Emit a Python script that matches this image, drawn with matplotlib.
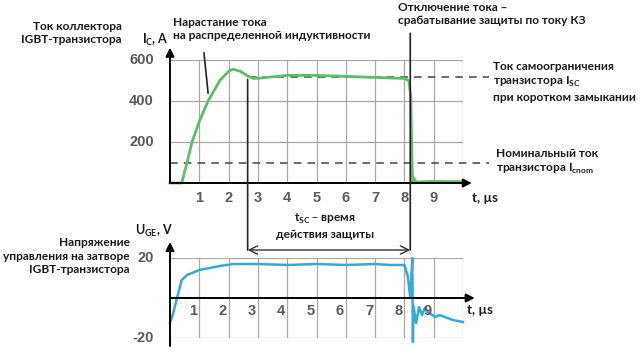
import matplotlib
matplotlib.use("Agg")
import matplotlib.pyplot as plt
from matplotlib.patches import ConnectionPatch

plt.rcParams['font.family'] = ['Lato', 'DejaVu Sans']

# collector current, A
t_ic = [0.0, 0.4, 0.6, 0.75, 1.0, 1.3, 1.7, 2.0, 2.15, 2.4, 2.65, 2.85, 3.1, 3.5, 4.0, 5.0, 6.0, 7.0, 7.6, 8.0, 8.15, 8.22, 8.25, 8.28, 8.32, 8.4, 9.0, 10.0]
ic = [0, 0, 110, 200, 300, 400, 500, 545, 555, 545, 522, 510, 512, 518, 525, 525, 520, 515, 512, 510, 500, 420, 150, 0, 25, 5, 8, 6]

# gate voltage, V
t_uge = [0.0, 0.1, 0.24, 0.4, 0.58, 1.0, 1.7, 2.15, 3.0, 4.0, 5.0, 6.0, 7.0, 7.5, 8.0, 8.12, 8.2, 8.27, 8.29, 8.31, 8.4, 8.5, 8.6, 8.7, 8.8, 8.95, 9.05, 9.2, 9.65, 10.0]
uge = [-12.5, -8, 0, 9, 11.5, 14, 16, 17, 17, 16.5, 17, 16.5, 17, 16.5, 16.5, 10.5, 0, 20, -22, -4, -12.5, -4.5, -8.5, -5, -7, -8.5, -9.5, -8.5, -11, -12]

ic_ticks = [200, 400, 600]
uge_ticks = [20, -20]
t_ticks = [1, 2, 3, 4, 5, 6, 7, 8, 9]
t_grid = [1, 2, 3, 4, 5, 6, 7, 8, 9, 10]
i_sc = 515
i_nom = 100

green = "#5cbe6c"
blue = "#35a9da"
gridc = "#a8a8a8"
txt = "#1a1a1a"
tickc = "#5a5a5a"

W, H = 640, 355
fig = plt.figure(figsize=(6.4, 3.55), dpi=100)


def px(x, y, w, h):
    return [x / W, 1 - (y + h) / H, w / W, h / H]


ax1 = fig.add_axes(px(170, 60, 293, 123))
ax2 = fig.add_axes(px(170, 258, 293, 80))
for ax in (ax1, ax2):
    ax.set_axis_off()
    ax.set_xlim(0, 10)
ax1.set_ylim(0, 600)
ax2.set_ylim(-20, 20)

# grids
ax1.vlines(t_grid, 0, 600, color=gridc, lw=0.9)
ax1.hlines(ic_ticks, 0, 10, color=gridc, lw=0.9)
ax2.vlines(t_grid, -20, 20, color=gridc, lw=0.9)
ax2.hlines(uge_ticks, 0, 10, color=gridc, lw=0.9)

# axes with arrows
arr = dict(arrowstyle="-|>,head_width=0.25,head_length=0.5", color="black", lw=1.4, shrinkA=0, shrinkB=0)
ax1.annotate("", xy=(0, 660), xytext=(0, 0), arrowprops=arr, annotation_clip=False)
ax1.annotate("", xy=(10.3, 0), xytext=(0, 0), arrowprops=arr, annotation_clip=False)
ax2.annotate("", xy=(0, 28), xytext=(0, -24), arrowprops=arr, annotation_clip=False)
ax2.annotate("", xy=(10.4, 0), xytext=(0, 0), arrowprops=arr, annotation_clip=False)

# dashed reference levels
ax1.plot([2.7, 10.9], [i_sc, i_sc], color="#444444", lw=1.1, ls=(0, (5, 4)), clip_on=False)
ax1.plot([0, 10.9], [i_nom, i_nom], color="#444444", lw=1.1, ls=(0, (5, 4)), clip_on=False)

# curves
ax1.plot(t_ic, ic, color=green, lw=2.0, clip_on=False)
ax2.plot(t_uge, uge, color=blue, lw=1.8, clip_on=False)

# tick labels
nkw = dict(fontsize=10.5, color=tickc, fontweight="bold", family=["Liberation Sans", "DejaVu Sans"])
for v in ic_ticks:
    ax1.text(-0.55, v, str(v), ha="right", va="center", **nkw)
for v in uge_ticks:
    ax2.text(-0.55, v, str(v), ha="right", va="center", **nkw)
for v in t_ticks:
    ax1.text(v, -72, str(v), ha="center", va="center", **nkw)
    ax2.text(v - 0.2, -6.5, str(v), ha="center", va="center", **nkw)
ax1.text(10.3, -72, "t, µs", ha="left", va="center", fontsize=9.5, color=txt, fontweight="bold")
ax2.text(10.15, -6, "t, µs", ha="left", va="center", fontsize=9.5, color=txt, fontweight="bold")
ax1.text(-0.95, 700, r"I$_\mathregular{C}$, A", ha="left", va="center", fontsize=9, color=txt, fontweight="bold")
ax2.text(-1.2, 33.5, r"U$_\mathregular{GE}$, V", ha="left", va="center", fontsize=9, color=txt, fontweight="bold")

# marker lines and t_sc range
for t0, ytop in ((2.65, 505), (8.2, 730)):
    con = ConnectionPatch(xyA=(t0, ytop), coordsA=ax1.transData, xyB=(t0, 24), coordsB=ax2.transData,
                          color="#222222", lw=1.2)
    fig.add_artist(con)
rng = ConnectionPatch(xyA=(2.65, 24), coordsA=ax2.transData, xyB=(8.2, 24), coordsB=ax2.transData,
                      arrowstyle="<->,head_width=0.3,head_length=0.6", color="#333333", lw=1.0)
fig.add_artist(rng)
ax1.plot([1.16, 1.30], [634, 439], color="#222222", lw=1.2, clip_on=False)

# annotations
fs = 8.6
kw = dict(fontsize=fs, color=txt, fontweight="bold")
fig.text(122 / W, 1 - 33 / H, "Ток коллектора\nIGBT-транзистора", ha="right", va="center", linespacing=1.3, **kw)
fig.text(173 / W, 1 - 29 / H, "Нарастание тока\nна распределенной индуктивности", ha="left", va="center", linespacing=1.3, **kw)
fig.text(398 / W, 1 - 14 / H, "Отключение тока –\nсрабатывание защиты по току КЗ", ha="left", va="center", linespacing=1.3, **kw)
fig.text(493 / W, 1 - 82 / H, "Ток самоограничения\nтранзистора I$_\\mathregular{SC}$\nпри коротком замыкании", ha="left", va="center", linespacing=1.35, **kw)
fig.text(496 / W, 1 - 162 / H, "Номинальный ток\nтранзистора I$_\\mathregular{cnom}$", ha="left", va="center", linespacing=1.35, **kw)
fig.text(325 / W, 1 - 226 / H, "t$_\\mathregular{SC}$ – время\nдействия защиты", ha="center", va="center", linespacing=1.35, **kw)
fig.text(130 / W, 1 - 256 / H, "Напряжение\nуправления на затворе\nIGBT-транзистора", ha="right", va="center", linespacing=1.3, **kw)

fig.savefig("out.png", dpi=100)
